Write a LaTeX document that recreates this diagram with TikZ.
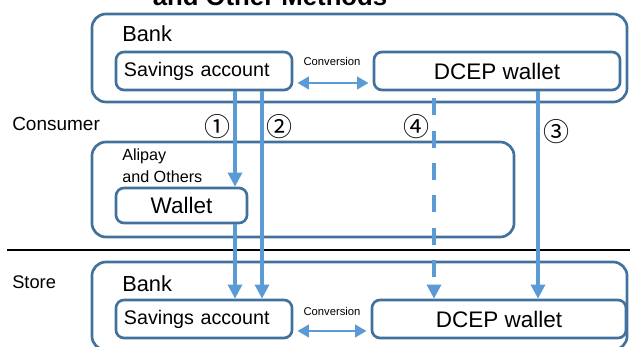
\documentclass[tikz,border=0pt]{standalone}
\usepackage{fontspec}
\setmainfont{Liberation Sans}
\newfontfamily\circfont{Noto Sans CJK JP}
\usetikzlibrary{arrows.meta,positioning}
\definecolor{boxblue}{RGB}{65,113,156}
\definecolor{flowblue}{RGB}{91,155,213}

\begin{document}
\begin{tikzpicture}[
    x=0.025cm,y=-0.025cm,
    outerbox/.style={draw=boxblue,line width=1.9pt,rounded corners=0.35cm,inner sep=0pt},
    acctbox/.style={draw=boxblue,line width=1.9pt,rounded corners=0.2cm,fill=white,minimum height=0.95cm,font=\fontsize{14}{16}\selectfont},
    flow/.style={-{Triangle[width=10pt,length=10pt]},draw=flowblue,line width=2.2pt},
    conv/.style={{Triangle[width=9pt,length=8pt]}-{Triangle[width=9pt,length=8pt]},draw=flowblue,line width=1.3pt,shorten <=3pt,shorten >=3pt},
    lbl/.style={anchor=west,inner sep=0pt},
    num/.style={font=\circfont\fontsize{18.5}{19}\selectfont,inner sep=0pt}
]
\useasboundingbox (0,0) rectangle (630,347);
\clip (0,0) rectangle (630,347);

% heading, mostly above the page
\node[font=\bfseries\fontsize{18.3}{20}\selectfont,anchor=base,inner sep=0pt] (title) at (270,6) {and Other Methods};

% consumer's bank
\node[outerbox,minimum width=13.375cm,minimum height=2.2cm] (bankC) at (359.5,58) {};
\node[lbl,font=\fontsize{15.5}{18}\selectfont] (bankClbl) at (122,34) {Bank};
\node[acctbox,minimum width=4.4cm,text width=4.0cm,align=left] (savC) at (204,71) {Savings account};
\node[acctbox,minimum width=6.15cm] (dcepC) at (497,71) {\fontsize{16}{18}\selectfont DCEP wallet};
\node[font=\fontsize{8}{9}\selectfont] (convC) at (332,61) {Conversion};
\draw[conv] ([yshift=-0.3cm]savC.east) -- ([yshift=-0.3cm]dcepC.west);

\node[lbl,font=\fontsize{13.5}{16}\selectfont] (consumer) at (12,124) {Consumer};

% third-party payment
\node[outerbox,minimum width=10.55cm,minimum height=2.375cm] (alipay) at (303,189.5) {};
\node[lbl,anchor=north west,align=left,font=\fontsize{11.5}{15}\selectfont] (alipaylbl) at (122,149) {Alipay\\and Others};
\node[acctbox,minimum width=3.275cm,minimum height=0.875cm] (wallet) at (181.5,205.5) {\fontsize{16}{18}\selectfont Wallet};

\coordinate (sepL) at (7,250);
\coordinate (sepR) at (630,250);
\draw[line width=0.8pt] (sepL) -- (sepR);

% store's bank
\node[lbl,font=\fontsize{13}{16}\selectfont] (store) at (12,282) {Store};
\node[outerbox,minimum width=13.375cm,minimum height=2.2cm] (bankS) at (359.5,306) {};
\node[lbl,font=\fontsize{15.5}{18}\selectfont] (bankSlbl) at (122,284) {Bank};
\node[acctbox,minimum width=4.4cm,text width=4.0cm,align=left] (savS) at (204,319) {Savings account};
\node[acctbox,minimum width=6.35cm] (dcepS) at (499,319) {\fontsize{16}{18}\selectfont DCEP wallet};
\node[font=\fontsize{8}{9}\selectfont] (convS) at (332,311) {Conversion};
\draw[conv] ([yshift=-0.3cm]savS.east) -- ([yshift=-0.3cm]dcepS.west);

% payment routes
\coordinate (c1) at (235,0);
\coordinate (c2) at (262,0);
\coordinate (c4) at (434,0);
\coordinate (c3) at (538,0);
\draw[flow] (savC.south -| c1) -- (wallet.north -| c1);
\draw[flow] (wallet.south -| c1) -- (savS.north -| c1);
\draw[flow] (savC.south -| c2) -- (savS.north -| c2);
\draw[flow,dash pattern=on 12pt off 11pt,dash phase=-5pt] (dcepC.south -| c4) -- (dcepS.north -| c4);
\draw[flow] (dcepC.south -| c3) -- (dcepS.north -| c3);

\node[num] (n1) at (218,127) {①};
\node[num] (n2) at (280,127) {②};
\node[num] (n4) at (417,127) {④};
\node[num] (n3) at (556,132) {③};
\end{tikzpicture}
\end{document}
